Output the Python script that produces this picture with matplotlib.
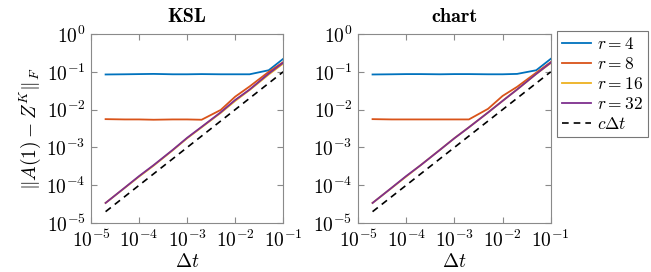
import matplotlib
matplotlib.use("Agg")
import matplotlib.pyplot as plt
import numpy as np

plt.rcParams['mathtext.fontset'] = 'cm'
plt.rcParams['font.family'] = 'serif'
plt.rcParams['font.serif'] = ['cmr10', 'DejaVu Serif']
plt.rcParams['axes.formatter.use_mathtext'] = True

# step sizes
dt = [2e-5, 5e-5, 1e-4, 2e-4, 5e-4, 1e-3, 2e-3, 5e-3, 1e-2, 2e-2, 5e-2, 1e-1]

# errors, KSL
ksl_r4 = [0.085, 0.086, 0.087, 0.088, 0.086, 0.086, 0.087, 0.086, 0.086, 0.086, 0.11, 0.22]
ksl_r8 = [0.0056, 0.0055, 0.0055, 0.0054, 0.0055, 0.0055, 0.0054, 0.0098, 0.022, 0.041, 0.10, 0.18]
ksl_r16 = [3.4e-5, 8.5e-5, 1.7e-4, 3.3e-4, 8.4e-4, 1.75e-3, 3.4e-3, 8.2e-3, 0.017, 0.033, 0.085, 0.165]
ksl_r32 = [3.4e-5, 8.6e-5, 1.75e-4, 3.4e-4, 8.6e-4, 1.8e-3, 3.5e-3, 8.5e-3, 0.018, 0.034, 0.09, 0.175]

# errors, chart
ch_r4 = [0.085, 0.086, 0.087, 0.087, 0.086, 0.087, 0.087, 0.086, 0.086, 0.088, 0.11, 0.22]
ch_r8 = [0.0056, 0.0055, 0.0055, 0.0055, 0.0055, 0.0055, 0.0055, 0.0105, 0.023, 0.040, 0.095, 0.18]
ch_r16 = [3.4e-5, 8.5e-5, 1.7e-4, 3.4e-4, 8.6e-4, 1.75e-3, 3.4e-3, 8.4e-3, 0.017, 0.034, 0.088, 0.17]
ch_r32 = [3.4e-5, 8.6e-5, 1.75e-4, 3.4e-4, 8.6e-4, 1.75e-3, 3.4e-3, 8.4e-3, 0.017, 0.034, 0.088, 0.175]

ref_c = 1.0
ref = [ref_c * d for d in dt]

titles = ['KSL', 'chart']
labels = [r'$r = 4$', r'$r = 8$', r'$r = 16$', r'$r = 32$', r'$c\Delta t$']
colors = ['#0072BD', '#D95319', '#EDB120', '#7E2F8E']
data = [[ksl_r4, ksl_r8, ksl_r16, ksl_r32], [ch_r4, ch_r8, ch_r16, ch_r32]]

fig = plt.figure(figsize=(6.51, 2.72), dpi=100)
ax1 = fig.add_axes([0.140, 0.180, 0.295, 0.695])
ax2 = fig.add_axes([0.550, 0.180, 0.296, 0.695])

frame = '#8a8a8a'
for ax, title, series in zip([ax1, ax2], titles, data):
    for y, c, lab in zip(series, colors, labels):
        ax.plot(dt, y, color=c, lw=1.3, label=lab)
    ax.plot(dt, ref, 'k--', lw=1.2, dashes=(4, 3), label=labels[-1])
    ax.set_xscale('log')
    ax.set_yscale('log')
    ax.set_xlim(1e-5, 1e-1)
    ax.set_ylim(1e-5, 1e0)
    ax.set_xticks([1e-5, 1e-4, 1e-3, 1e-2, 1e-1])
    ax.set_yticks([1e-5, 1e-4, 1e-3, 1e-2, 1e-1, 1e0])
    ax.tick_params(which='both', direction='in', top=True, right=True, color=frame, labelsize=14)
    ax.tick_params(which='major', length=4)
    ax.tick_params(which='minor', length=2.3)
    ax.tick_params(axis='x', pad=5)
    ax.tick_params(axis='y', pad=4)
    for s in ax.spines.values():
        s.set_color(frame)
    ax.set_title(title, fontfamily='cmb10', fontsize=14.5, pad=9)
    ax.set_xlabel(r'$\Delta t$', fontsize=14, labelpad=1)

ax1.set_ylabel(r'$\|A(1) - Z^K\|_F$', fontsize=14, labelpad=2)

h, l = ax2.get_legend_handles_labels()
leg = fig.legend(h, l, loc='upper left', bbox_to_anchor=(0.855, 0.885), fontsize=12.5,
                 frameon=True, fancybox=False, edgecolor='#555555', handlelength=1.7,
                 labelspacing=0.22, borderaxespad=0, handletextpad=0.3, borderpad=0.3)
leg.get_frame().set_linewidth(0.8)

fig.savefig('out.png', dpi=100)
